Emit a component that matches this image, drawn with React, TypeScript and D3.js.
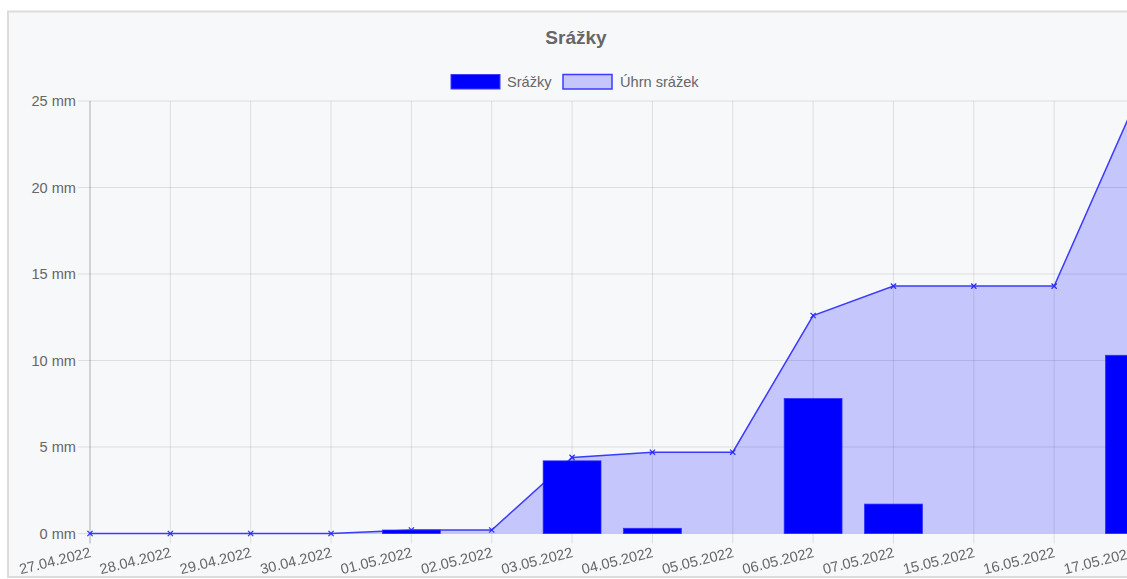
import React from "react";
import * as d3 from "d3";

const categories = [
  "27.04.2022", "28.04.2022", "29.04.2022", "30.04.2022", "01.05.2022",
  "02.05.2022", "03.05.2022", "04.05.2022", "05.05.2022", "06.05.2022",
  "07.05.2022", "15.05.2022", "16.05.2022", "17.05.2022",
];
const dailyRain = [0, 0, 0, 0, 0.2, 0, 4.2, 0.3, 0, 7.8, 1.7, 0, 0, 10.3];
const totalRain = [0, 0, 0, 0, 0.2, 0.2, 4.4, 4.7, 4.7, 12.6, 14.3, 14.3, 14.3, 24.8];
const yTicks = [0, 5, 10, 15, 20, 25];
const titleText = "Srážky";
const seriesNames = ["Srážky", "Úhrn srážek"];

const FONT = "'Liberation Sans', Arial, Helvetica, sans-serif";

export default function App() {
  const left = 90, right = 1134.5, top = 101, bottom = 533.5;
  const x = d3.scalePoint<string>().domain(categories).range([left, right]);
  const y = d3.scaleLinear().domain([0, 25]).range([bottom, top]);
  const step = x.step();
  const barW = step * 0.72;

  const area = d3.area<number>()
    .x((_, i) => x(categories[i]) as number)
    .y0(y(0))
    .y1((d) => y(d));
  const line = d3.line<number>()
    .x((_, i) => x(categories[i]) as number)
    .y((d) => y(d));

  const grid = "rgba(0,0,0,0.1)";
  return (
    <svg
      width={1127}
      height={579}
      style={{ position: "fixed", left: 0, top: 0, display: "block" }}
      fontFamily={FONT}
    >
      <rect x={0} y={0} width={1127} height={579} fill="#ffffff" />
      <rect x={8} y={11.5} width={1200} height={565.5} fill="#f7f8fa" stroke="#dcdcdc" strokeWidth={2} />
      {/* title */}
      <text x={576} y={44} textAnchor="middle" fontSize={19} fontWeight="bold" fill="#666">
        {titleText}
      </text>
      {/* legend */}
      <rect x={451} y={74.5} width={49} height={14.5} fill="#0000ff" stroke="rgba(60,60,255,1)" strokeWidth={1} />
      <text x={507} y={86.5} fontSize={14.6} fill="#666">{seriesNames[0]}</text>
      <rect x={563} y={74.5} width={49} height={14.5} fill="rgba(0,0,255,0.2)" stroke="#3b3bff" strokeWidth={1.5} />
      <text x={620} y={86.5} fontSize={14.6} fill="#666">{seriesNames[1]}</text>

      {/* horizontal grid */}
      {yTicks.map((t) => (
        <g key={"h" + t}>
          <line x1={78} x2={1127} y1={y(t)} y2={y(t)} stroke={grid} strokeWidth={1} />
          <text x={76} y={y(t)} dy="0.35em" textAnchor="end" fontSize={14.6} fill="#666">
            {t} mm
          </text>
        </g>
      ))}
      {/* vertical grid */}
      {categories.map((c, i) => (
        <line
          key={"v" + c}
          x1={x(c)}
          x2={x(c)}
          y1={top}
          y2={bottom + 10}
          stroke={i === 0 ? "rgba(0,0,0,0.3)" : grid}
          strokeWidth={1}
        />
      ))}

      {/* area + line */}
      <path d={area(totalRain) || ""} fill="rgba(0,0,255,0.2)" />
      <path d={line(totalRain) || ""} fill="none" stroke="#3b3bff" strokeWidth={1.5} />
      {totalRain.map((v, i) => {
        const cx = x(categories[i]) as number;
        const cy = y(v);
        const r = 2.6;
        return (
          <g key={"p" + i} stroke="#2a2aff" strokeWidth={1.2}>
            <line x1={cx - r} x2={cx + r} y1={cy - r} y2={cy + r} />
            <line x1={cx - r} x2={cx + r} y1={cy + r} y2={cy - r} />
          </g>
        );
      })}

      {/* bars */}
      {dailyRain.map((v, i) =>
        v > 0 ? (
          <rect
            key={"b" + i}
            x={(x(categories[i]) as number) - barW / 2}
            y={y(v)}
            width={barW}
            height={y(0) - y(v)}
            fill="#0000ff"
            stroke="rgba(40,40,255,0.9)"
            strokeWidth={0.8}
          />
        ) : null
      )}

      {/* x labels */}
      {categories.map((c) => (
        <text
          key={"xl" + c}
          transform={`translate(${(x(c) as number) - 1},${546.5}) rotate(-14)`}
          dy="0.72em"
          textAnchor="end"
          fontSize={14.6}
          fill="#666"
        >
          {c}
        </text>
      ))}
    </svg>
  );
}
